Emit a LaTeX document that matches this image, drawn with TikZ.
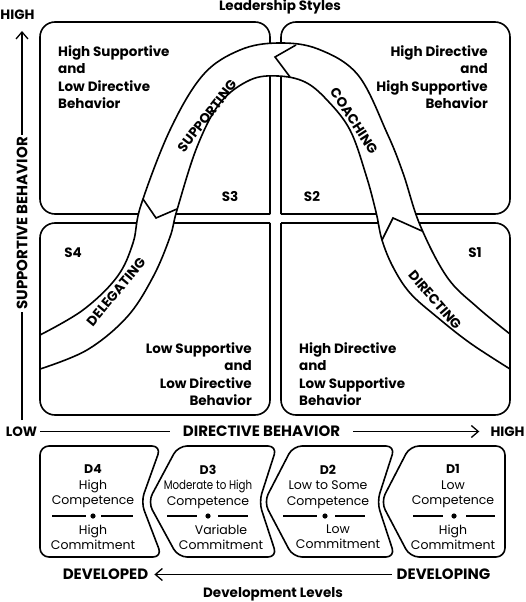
\documentclass[tikz,border=0pt]{standalone}
\usepackage{fontspec}
\setmainfont{Poppins}
\usepackage{tikz}
\usetikzlibrary{arrows.meta}

\begin{document}
\begin{tikzpicture}[x=1pt, y=-1pt,
    box/.style={line width=1.6pt, rounded corners=15pt},
    lvlbox/.style={line width=1.6pt, rounded corners=9pt},
    quad/.style={font=\bfseries\fontsize{13.5}{17.4}\selectfont, inner sep=0pt},
    axis/.style={font=\bfseries\fontsize{15}{17}\selectfont},
    title/.style={font=\bfseries\fontsize{13.5}{16}\selectfont},
    bandlabel/.style={font=\bfseries\fontsize{13.5}{15}\selectfont},
    lvl/.style={font=\fontsize{12.5}{15.5}\selectfont, align=center, inner sep=0pt},
    axisline/.style={line width=1.3pt}]
  \useasboundingbox (0,0) rectangle (525,602);

  % four quadrants
  \draw[box] (270,214) -- (270,22) -- (40,22) -- (40,214) -- (270,214);
  \draw[box] (281,214) -- (281,22) -- (510,22) -- (510,214) -- (281,214);
  \draw[box] (270,223) -- (270,415) -- (40,415) -- (40,223) -- (270,223);
  \draw[box] (281,223) -- (510,223) -- (510,415) -- (281,415) -- (281,223);

  % the curved band
  \draw[line width=1.6pt, fill=white]
    plot[smooth, tension=0.6] coordinates {(40,335) (83,310) (117,277) (133,243) (141,205)
      (170,130) (203,75) (240,50) (278,43) (318,49) (358,75) (387,133) (403,173)
      (420,225) (447,277) (477,307) (510,334)}
    -- plot[smooth, tension=0.6] coordinates {(510,369) (470,343) (437,317) (410,293)
      (393,267) (382,240) (376,212) (366,175) (350,130) (327,100) (305,82) (278,76)
      (250,80) (220,103) (197,147) (177,210) (170,237) (153,277) (127,317) (87,350)
      (40,369)}
    -- cycle;
  \draw[line width=1.6pt] (143,199) -- (156,218) -- (177,209);
  \draw[line width=1.6pt] (296,45) -- (275,57) -- (290,77);
  \draw[line width=1.6pt] (382,240) -- (393,218) -- (422,231);

  \node[bandlabel, rotate=52] (supporting) at (207,116) {SUPPORTING};
  \node[bandlabel, rotate=-57] (coaching) at (354,121) {COACHING};
  \node[bandlabel, rotate=50] (delegating) at (116,292) {DELEGATING};
  \node[bandlabel, rotate=-49] (directing) at (435,300) {DIRECTING};

  % quadrant texts
  \node[quad, anchor=north west, align=left] (tltext) at (58,45.5)
    {High Supportive\\and\\Low Directive\\Behavior};
  \node[quad, anchor=north east, align=right] (trtext) at (488,45.5)
    {High Directive\\and\\High Supportive\\Behavior};
  \node[quad, anchor=north east, align=right] (bltext) at (252,342.5)
    {Low Supportive\\and\\Low Directive\\Behavior};
  \node[quad, anchor=north west, align=left] (brtext) at (299,342.5)
    {High Directive\\and\\Low Supportive\\Behavior};
  \node[quad] (s3) at (230,197) {S3};
  \node[quad] (s2) at (312,197) {S2};
  \node[quad] (s4) at (73,253) {S4};
  \node[quad] (s1) at (475,253) {S1};

  % axes
  \node[title] (toplabel) at (280,6.5) {Leadership Styles};
  \node[title] (highy) at (17.5,15) {HIGH};
  \node[axis, rotate=90, inner xsep=2pt] (supbeh) at (22,223.5) {SUPPORTIVE BEHAVIOR};
  \coordinate (vlow) at (22,420);
  \coordinate (vhigh) at (22,31);
  \draw[axisline] (vlow) -- (supbeh);
  \draw[axisline, -{Straight Barb[length=7pt, width=12pt]}] (supbeh) -- (vhigh);
  \node[title, inner xsep=3pt] (lowx) at (21.5,431.5) {LOW};
  \node[axis, inner xsep=13pt] (dirbeh) at (261.5,431.5) {DIRECTIVE BEHAVIOR};
  \node[title, inner xsep=11pt] (highx) at (507.5,431.5) {HIGH};
  \draw[axisline] (lowx) -- (dirbeh);
  \draw[axisline, -{Straight Barb[length=7pt, width=12pt]}] (dirbeh) -- (highx);

  % development levels
  \draw[lvlbox] (100,446) -- (161,446) -- (141,502) -- (162,557) -- (40,557) -- (40,446) -- cycle;
  \draw[lvlbox] (230,446) -- (277,446) -- (259,502) -- (277,557) -- (178,557) -- (148,502) -- (178,446) -- cycle;
  \draw[lvlbox] (345,446) -- (395,446) -- (377,502) -- (395,557) -- (293,557) -- (264,502) -- (293,446) -- cycle;
  \draw[lvlbox] (460,446) -- (505,446) -- (505,557) -- (410,557) -- (381,502) -- (410,446) -- cycle;

  \node[lvl, anchor=north] (d4top) at (93,464.5) {\textbf{D4}\\High\\Competence};
  \node[lvl, anchor=north] (d4bot) at (93,524.5) {High\\Commitment};
  \draw[line width=1.2pt] (52,516) -- (86,516);
  \fill (93,516) circle (2.6pt);
  \draw[line width=1.2pt] (101,516) -- (133,516);

  \node[lvl, anchor=north] (d3top) at (208,464.5) {\textbf{D3}\\\scalebox{0.82}[1]{Moderate to High}\\Competence};
  \node[lvl, anchor=north] (d3bot) at (221,524.5) {Variable\\Commitment};
  \draw[line width=1.2pt] (167,516) -- (197,516);
  \fill (208,516) circle (2.6pt);
  \draw[line width=1.2pt] (218,516) -- (248,516);

  \node[lvl, anchor=north] (d2top) at (328,464.5) {\textbf{D2}\\Low to Some\\Competence};
  \node[lvl, anchor=north] (d2bot) at (338,524.5) {Low\\Commitment};
  \draw[line width=1.2pt] (283,516) -- (317,516);
  \fill (325,516) circle (2.6pt);
  \draw[line width=1.2pt] (335,516) -- (365,516);

  \node[lvl, anchor=north] (d1top) at (453,464.5) {\textbf{D1}\\Low\\Competence};
  \node[lvl, anchor=north] (d1bot) at (453,524.5) {High\\Commitment};
  \draw[line width=1.2pt] (413,516) -- (443,516);
  \fill (454,516) circle (2.6pt);
  \draw[line width=1.2pt] (466,516) -- (495,516);

  \node[axis, inner xsep=6pt] (developed) at (105.5,574.5) {DEVELOPED};
  \node[axis, inner xsep=5pt] (developing) at (443.5,574.5) {DEVELOPING};
  \draw[axisline, {Straight Barb[length=7pt, width=12pt]}-] (developed) -- (developing);
  \node[title] (bottomlabel) at (273,594.5) {Development Levels};
\end{tikzpicture}
\end{document}
